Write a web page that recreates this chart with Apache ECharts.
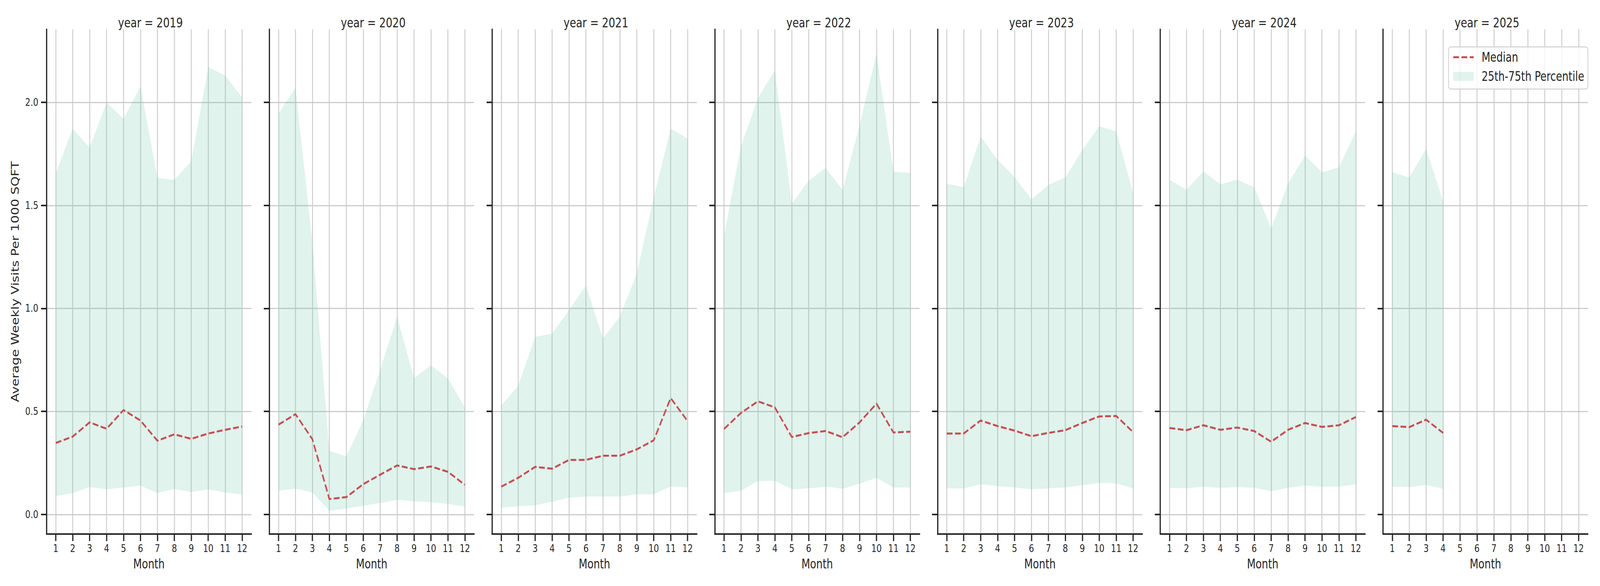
<!DOCTYPE html>
<html>
<head>
<meta charset="utf-8">
<script src="https://cdn.jsdelivr.net/npm/echarts@6/dist/echarts.min.js"></script>
<style>
  html, body { margin: 0; padding: 0; background: #fff; overflow: hidden; }
  #chart { width: 5250px; height: 1500px; transform-origin: 0 0; }
</style>
</head>
<body>
<div id="chart"></div>
<script>
// months on the x axis, one panel per year
const months = [1, 2, 3, 4, 5, 6, 7, 8, 9, 10, 11, 12];
const years = [2019, 2020, 2021, 2022, 2023, 2024, 2025];
const yTicks = [0, 0.5, 1.0, 1.5, 2.0];

// median / 25th / 75th percentile per year
const median2019 = [0.347, 0.378, 0.447, 0.416, 0.507, 0.456, 0.358, 0.389, 0.367, 0.393, 0.411, 0.427];
const p25_2019 = [0.089, 0.104, 0.133, 0.122, 0.131, 0.140, 0.104, 0.124, 0.109, 0.122, 0.107, 0.098];
const p75_2019 = [1.656, 1.873, 1.780, 2.000, 1.920, 2.078, 1.633, 1.624, 1.715, 2.171, 2.131, 2.024];

const median2020 = [0.436, 0.487, 0.365, 0.075, 0.084, 0.147, 0.193, 0.238, 0.220, 0.233, 0.207, 0.144];
const p25_2020 = [0.116, 0.125, 0.107, 0.018, 0.029, 0.042, 0.056, 0.071, 0.064, 0.060, 0.051, 0.038];
const p75_2020 = [1.947, 2.071, 1.320, 0.309, 0.282, 0.456, 0.702, 0.960, 0.662, 0.724, 0.660, 0.520];

const median2021 = [0.135, 0.178, 0.231, 0.222, 0.265, 0.265, 0.285, 0.285, 0.316, 0.360, 0.565, 0.453];
const p25_2021 = [0.033, 0.040, 0.045, 0.062, 0.082, 0.087, 0.087, 0.087, 0.098, 0.098, 0.136, 0.131];
const p75_2021 = [0.529, 0.624, 0.862, 0.878, 0.993, 1.111, 0.855, 0.960, 1.169, 1.538, 1.873, 1.824];

const median2022 = [0.415, 0.493, 0.549, 0.520, 0.376, 0.395, 0.405, 0.375, 0.447, 0.538, 0.398, 0.402];
const p25_2022 = [0.104, 0.115, 0.162, 0.164, 0.122, 0.127, 0.135, 0.125, 0.149, 0.178, 0.131, 0.131];
const p75_2022 = [1.351, 1.787, 2.020, 2.156, 1.507, 1.620, 1.682, 1.575, 1.887, 2.238, 1.664, 1.658];

const median2023 = [0.393, 0.393, 0.456, 0.429, 0.407, 0.380, 0.396, 0.409, 0.444, 0.476, 0.478, 0.400];
const p25_2023 = [0.127, 0.127, 0.147, 0.138, 0.131, 0.122, 0.127, 0.131, 0.142, 0.153, 0.151, 0.127];
const p75_2023 = [1.605, 1.589, 1.835, 1.720, 1.638, 1.529, 1.600, 1.636, 1.769, 1.884, 1.860, 1.558];

const median2024 = [0.420, 0.409, 0.433, 0.411, 0.422, 0.405, 0.353, 0.411, 0.444, 0.425, 0.433, 0.473];
const p25_2024 = [0.129, 0.127, 0.135, 0.129, 0.133, 0.129, 0.113, 0.129, 0.140, 0.135, 0.136, 0.147];
const p75_2024 = [1.625, 1.576, 1.665, 1.602, 1.625, 1.589, 1.387, 1.607, 1.742, 1.660, 1.685, 1.860];

const median2025 = [0.429, 0.424, 0.460, 0.396];
const p25_2025 = [0.135, 0.133, 0.144, 0.124];
const p75_2025 = [1.662, 1.635, 1.775, 1.520];

const medians = [median2019, median2020, median2021, median2022, median2023, median2024, median2025];
const lows = [p25_2019, p25_2020, p25_2021, p25_2022, p25_2023, p25_2024, p25_2025];
const highs = [p75_2019, p75_2020, p75_2021, p75_2022, p75_2023, p75_2024, p75_2025];

const TXT = '#262626';
const FONT = 'DejaVu Sans';
const BAND = 'rgba(102,194,165,0.2)';
const RED = '#c44e52';
const DASH = [19, 8];

// the window may be narrower than the 5250 px figure: shrink the whole figure to fit
const box = document.getElementById('chart');
const sx = Math.min(1, window.innerWidth / 5250);
const sy = Math.min(1, window.innerHeight / 1500);
box.style.transform = 'scale(' + sx + ',' + sy + ')';

const chart = echarts.init(box, null, { renderer: 'svg', width: 5250, height: 1500 });

const panelLeft = 152.7, panelStep = 730.9, panelW = 672, panelTop = 75, panelH = 1292;

const grids = [], xAxes = [], yAxes = [], titles = [], series = [];

// the 25-75 band as one polygon, points placed through the axes
function bandRenderer(lo, hi) {
    return function (params, api) {
        if (params.dataIndex !== 0) return null;
        const pts = [];
        for (let k = 0; k < hi.length; k++) pts.push(api.coord([months[k], hi[k]]));
        for (let k = lo.length - 1; k >= 0; k--) pts.push(api.coord([months[k], lo[k]]));
        return { type: 'polygon', shape: { points: pts }, style: { fill: BAND } };
    };
}

years.forEach(function (yr, i) {
    const left = panelLeft + i * panelStep;
    grids.push({ left: left, top: panelTop, width: panelW, height: panelH, containLabel: false, outerBoundsMode: 'none' });

    titles.push({
        text: 'year = ' + yr,
        left: left + panelW / 2,
        top: 36,
        textAlign: 'center',
        textStyle: { fontFamily: FONT, fontSize: 34, fontWeight: 'normal', color: TXT }
    });

    xAxes.push({
        type: 'value', gridIndex: i, min: 0.455, max: 12.545,
        name: 'Month', nameLocation: 'middle', nameGap: 60,
        nameTextStyle: { fontFamily: FONT, fontSize: 33, color: TXT },
        axisLine: { onZero: false, lineStyle: { color: TXT, width: 4 } },
        axisTick: { customValues: months, length: 18, lineStyle: { color: TXT, width: 4 } },
        axisLabel: { customValues: months, margin: 24, fontFamily: FONT, fontSize: 27, color: TXT },
        splitLine: { show: true, lineStyle: { color: '#cccccc', width: 3 } }
    });

    yAxes.push({
        type: 'value', gridIndex: i, min: -0.095, max: 2.355,
        name: i === 0 ? 'Average Weekly Visits Per 1000 SQFT' : '',
        nameLocation: 'middle', nameGap: 86, nameRotate: 90,
        nameTextStyle: { fontFamily: FONT, fontSize: 33, color: TXT },
        axisLine: { show: true, onZero: false, lineStyle: { color: TXT, width: 4 } },
        axisTick: { show: true, customValues: yTicks, length: 18, lineStyle: { color: TXT, width: 4 } },
        axisLabel: {
            show: i === 0, customValues: yTicks, margin: 27,
            fontFamily: FONT, fontSize: 27, color: TXT,
            formatter: function (v) { return v.toFixed(1); }
        },
        splitLine: { show: true, lineStyle: { color: '#cccccc', width: 3 } }
    });

    const med = medians[i], lo = lows[i], hi = highs[i];

    series.push({
        type: 'custom', name: '25th-75th Percentile', xAxisIndex: i, yAxisIndex: i,
        silent: true, clip: true,
        itemStyle: { color: BAND },
        encode: { x: 0, y: [1, 2] },
        renderItem: bandRenderer(lo, hi),
        data: lo.map(function (v, k) { return [months[k], v, hi[k]]; })
    });
    series.push({
        type: 'line', name: 'Median', xAxisIndex: i, yAxisIndex: i,
        symbol: 'none', z: 5,
        itemStyle: { color: RED },
        lineStyle: { color: RED, width: 5, type: DASH },
        data: med.map(function (v, k) { return [months[k], v]; })
    });
});

const option = {
    animation: false,
    backgroundColor: '#ffffff',
    textStyle: { fontFamily: FONT },
    title: titles,
    grid: grids,
    xAxis: xAxes,
    yAxis: yAxes,
    legend: {
        orient: 'vertical',
        left: 4753, top: 120,
        data: [
            {
                name: 'Median',
                itemStyle: { opacity: 0, color: 'rgba(0,0,0,0)', borderWidth: 0 },
                lineStyle: { color: RED, width: 5, type: DASH, opacity: 1 }
            },
            { name: '25th-75th Percentile', icon: 'rect', itemStyle: { color: BAND } }
        ],
        itemWidth: 67, itemHeight: 23, itemGap: 16,
        padding: [10, 12, 16, 13],
        borderColor: '#d6d6d6', borderWidth: 3, borderRadius: 8,
        backgroundColor: 'rgba(255,255,255,0.8)',
        textStyle: { fontFamily: FONT, fontSize: 33, color: TXT, padding: [0, 0, 0, 21] }
    },
    series: series
};

chart.setOption(option);
</script>
</body>
</html>
